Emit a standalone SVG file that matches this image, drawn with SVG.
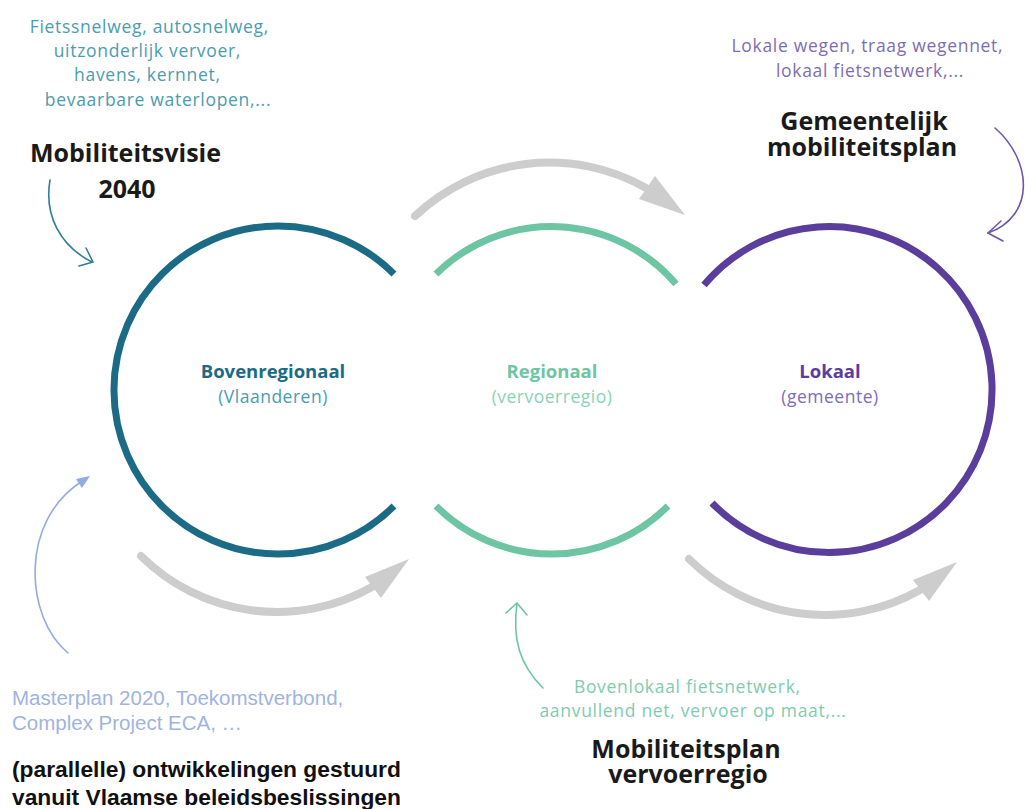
<svg xmlns="http://www.w3.org/2000/svg" width="1025" height="809" viewBox="0 0 1025 809">
  <style>
    .ring { fill: none; stroke-width: 7; stroke-linecap: butt; }
    .flow { fill: none; stroke: #cdcdcd; stroke-width: 8; stroke-linecap: round; }
    .head { fill: #cdcdcd; }
    .thin { fill: none; stroke-width: 1.6; stroke-linecap: round; stroke-linejoin: round; }
    .fl { font-family: "Open Sans", "Noto Sans", "DejaVu Sans", sans-serif; }
    .list { font-size: 17.5px; letter-spacing: 0.7px; text-anchor: middle; }
    .title { font-size: 25px; font-weight: bold; fill: #1a1a1a; text-anchor: middle; }
    .lab { font-size: 18.5px; font-weight: bold; text-anchor: middle; }
    .sub { font-size: 17.5px; letter-spacing: 0.5px; text-anchor: middle; }
    .ar { font-family: "Liberation Sans", Arial, sans-serif; }
  </style>

  <rect width="1025" height="809" fill="#ffffff"/>

  <g id="connectors">
    <!-- grey flow arrows -->
    <path class="flow" d="M415,216 A196,196 0 0 1 646,188"/>
    <polygon class="head" points="655,176 685,215 639,199"/>
    <path class="flow" d="M141,556 A193,193 0 0 0 372,587"/>
    <polygon class="head" points="365,577 409,559 381,598"/>
    <g transform="translate(548,3)">
      <path class="flow" d="M141,556 A193,193 0 0 0 372,587"/>
      <polygon class="head" points="365,577 409,559 381,598"/>
    </g>
    <!-- thin annotation arrows -->
    <path class="thin" stroke="#2f7f96" d="M50,180 C44,215 60,246 92,262"/>
    <path class="thin" stroke="#2f7f96" d="M86,248 L93,262 L79,266"/>
    <path class="thin" stroke="#6e56a8" d="M995,128 C1032,160 1036,216 988,233"/>
    <path class="thin" stroke="#6e56a8" d="M1001,221 L988,233 L1003,241"/>
    <path class="thin" stroke="#93abe0" stroke-width="2" d="M68,653 C25,618 18,520 84,480"/>
    <polygon fill="#93abe0" points="90,476 76,479 82,488"/>
    <path class="thin" stroke="#6dc5a3" d="M543,688 C520,665 512,640 517,603"/>
    <path class="thin" stroke="#6dc5a3" d="M506,613 L517,603 L527,615"/>
  </g>

  <g id="node-bovenregionaal">
    <path class="ring" stroke="#1b6b87" d="M394,274 A164,164 0 1 0 394,506"/>
    <text class="fl lab" x="273" y="378" fill="#1b6b87">Bovenregionaal</text>
    <text class="fl sub" x="273" y="403" fill="#4b9cb0">(Vlaanderen)</text>
  </g>

  <g id="node-regionaal">
    <path class="ring" stroke="#6dc5a3" d="M436,274 A164,164 0 0 1 676,284"/>
    <path class="ring" stroke="#6dc5a3" d="M436,506 A164,164 0 0 0 668,506"/>
    <text class="fl lab" x="552" y="378" fill="#6dc5a3">Regionaal</text>
    <text class="fl sub" x="552" y="403" fill="#8ad2b6">(vervoerregio)</text>
  </g>

  <g id="node-lokaal">
    <path class="ring" stroke="#5b3e9c" d="M704,285 A163,163 0 1 1 712,503"/>
    <text class="fl lab" x="830" y="378" fill="#5b3e9c">Lokaal</text>
    <text class="fl sub" x="830" y="403" fill="#7e6db2">(gemeente)</text>
  </g>

  <g id="node-mobiliteitsvisie">
    <text class="fl list" fill="#4b9cb0">
      <tspan x="152" y="33">Fietssnelweg, autosnelweg,</tspan>
      <tspan x="150" y="57">uitzonderlijk vervoer,</tspan>
      <tspan x="150" y="81">havens, kernnet,</tspan>
      <tspan x="158" y="106">bevaarbare waterlopen,...</tspan>
    </text>
    <text class="fl title" style="text-anchor:start" x="30" y="162">Mobiliteitsvisie</text>
    <text class="fl title" x="127" y="198">2040</text>
  </g>

  <g id="node-gemeentelijk">
    <text class="fl list" fill="#7e6db2">
      <tspan x="870" y="52">Lokale wegen, traag wegennet,</tspan>
      <tspan x="870" y="77">lokaal fietsnetwerk,...</tspan>
    </text>
    <text class="fl title" x="864" y="130">Gemeentelijk</text>
    <text class="fl title" x="862" y="156">mobiliteitsplan</text>
  </g>

  <g id="node-vervoerregio">
    <text class="fl list" fill="#7fcbb0">
      <tspan x="690" y="693">Bovenlokaal fietsnetwerk,</tspan>
      <tspan x="693" y="717">aanvullend net, vervoer op maat,...</tspan>
    </text>
    <text class="fl title" x="686" y="758">Mobiliteitsplan</text>
    <text class="fl title" x="688" y="783">vervoerregio</text>
  </g>

  <g id="node-parallel">
    <text class="ar" font-size="20.5" fill="#9fb3e3">
      <tspan x="12" y="705">Masterplan 2020, Toekomstverbond,</tspan>
      <tspan x="12" y="730">Complex Project ECA, …</tspan>
    </text>
    <text class="ar" font-size="22.8" font-weight="bold" fill="#111111">
      <tspan x="12" y="777">(parallelle) ontwikkelingen gestuurd</tspan>
      <tspan x="12" y="805">vanuit Vlaamse beleidsbeslissingen</tspan>
    </text>
  </g>
</svg>
